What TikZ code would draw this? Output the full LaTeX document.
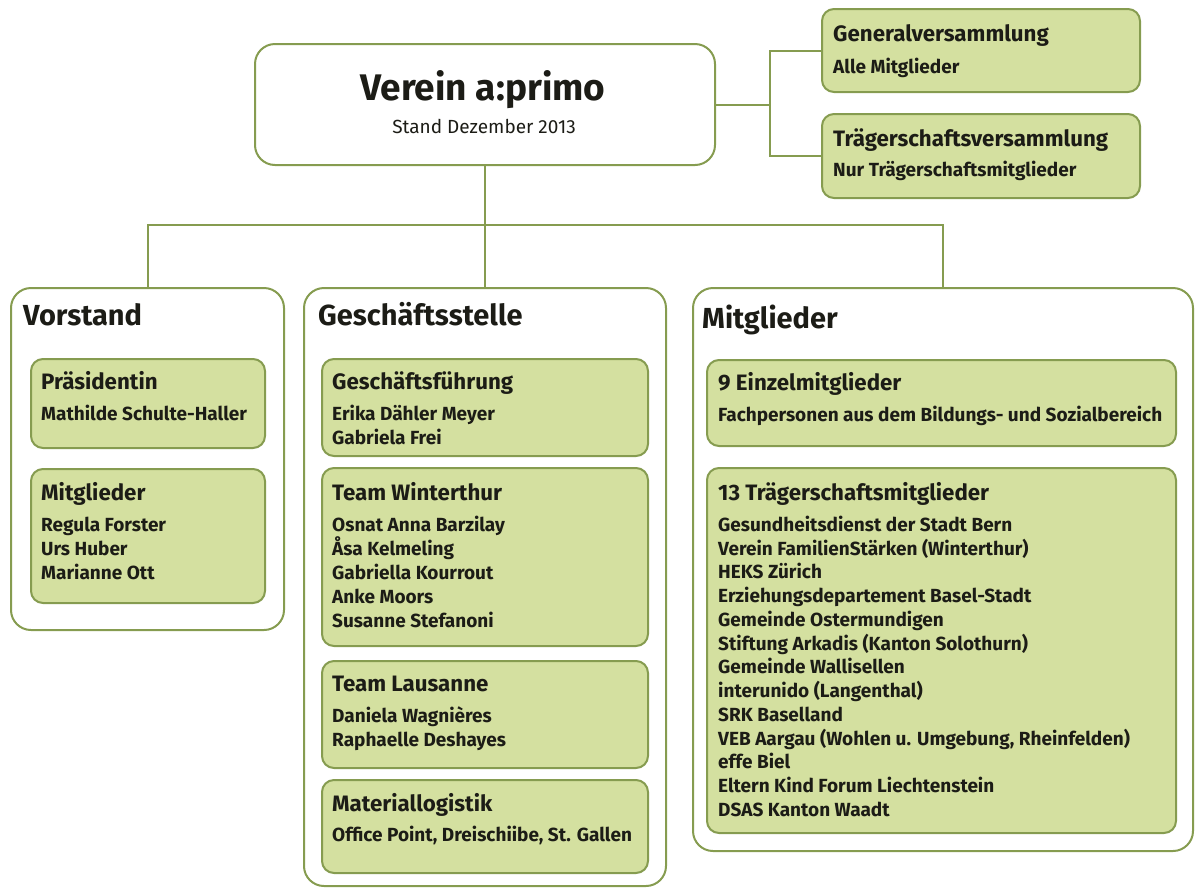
\documentclass[tikz,border=0pt]{standalone}
\usepackage{fontspec}
\setmainfont{Fira Sans}
\usepackage{xcolor}

\begin{document}
\begin{tikzpicture}[x=1pt, y=-1pt,
    link/.style={draw=lineGreen, line width=2pt},
    outerbox/.style={draw=lineGreen, line width=2pt, rounded corners=20pt, fill=white,
      anchor=north west, inner sep=0pt},
    greenbox/.style={draw=lineGreen, line width=2pt, rounded corners=12pt, fill=boxGreen,
      anchor=north west, inner sep=0pt},
    plain/.style={inner sep=0pt, text height=0.7em, text depth=0pt, text=inkBlack},
    headtext/.style={plain, anchor=west, font=\bfseries\fontsize{29}{34}\selectfont},
    boxtitle/.style={plain, anchor=west, font=\bfseries\fontsize{22.3}{26}\selectfont},
    entry/.style={plain, anchor=west, font=\bfseries\fontsize{19}{22}\selectfont}]
  \definecolor{boxGreen}{RGB}{212,224,160}
  \definecolor{lineGreen}{RGB}{134,156,80}
  \definecolor{inkBlack}{RGB}{28,28,22}
  \useasboundingbox (0,0) rectangle (1196,887);

  % Kopf
  \coordinate (bus) at (484,225);
  \node[outerbox, minimum width=460pt, minimum height=121pt] (verein) at (254,43) {};
  \node[plain, font=\bfseries\fontsize{37}{42}\selectfont] (verein-t) at (483,97) {Verein a:primo};
  \node[plain, font=\fontsize{19}{22}\selectfont] (verein-s) at (484,130) {Stand Dezember 2013};
  \path (verein.east) ++(54,0) coordinate (fork);

  \node[greenbox, minimum width=318pt, minimum height=83pt] (gv) at (821,8) {};
  \node[boxtitle] (gv-t) at (833,38) {Generalversammlung};
  \node[entry] (gv-1) at (833,70) {Alle Mitglieder};
  \node[greenbox, minimum width=318pt, minimum height=84pt] (tv) at (821,113) {};
  \node[boxtitle] (tv-t) at (833,143) {Trägerschaftsversammlung};
  \node[entry] (tv-1) at (833,173) {Nur Trägerschaftsmitglieder};

  \draw[link] (verein.east) -- (fork);
  \draw[link] (gv.west) -| (fork) |- (tv.west);

  % Bereiche
  \node[outerbox, minimum width=273pt, minimum height=342pt] (vorstand) at (10,287) {};
  \node[outerbox, minimum width=362pt, minimum height=598pt] (gst) at (303,287) {};
  \node[outerbox, minimum width=500pt, minimum height=563pt] (mitgl) at (692,287) {};
  \draw[link] (verein.south) -- (gst.north);
  \draw[link] (vorstand.north) |- (bus) -| (mitgl.north);

  \node[headtext] (vorstand-t) at (23,322) {Vorstand};
  \node[headtext] (gst-t) at (318,322) {Geschäftsstelle};
  \node[headtext] (mitgl-t) at (702,325) {Mitglieder};

  % Vorstand
  \node[greenbox, minimum width=234pt, minimum height=89pt] (praes) at (30,358) {};
  \node[boxtitle] (praes-t) at (41,386) {Präsidentin};
  \node[entry] (praes-1) at (41,417) {Mathilde Schulte-Haller};
  \node[greenbox, minimum width=234pt, minimum height=134pt] (vmitgl) at (30,468) {};
  \node[boxtitle] (vmitgl-t) at (41,497) {Mitglieder};
  \foreach \txt [count=\i] in {Regula Forster, Urs Huber, Marianne Ott}
    \node[entry] (vmitgl-\i) at (41,504+24*\i) {\txt};

  % Geschaeftsstelle
  \node[greenbox, minimum width=326pt, minimum height=97pt] (gf) at (321,358) {};
  \node[boxtitle] (gf-t) at (332,386) {Geschäftsführung};
  \foreach \txt [count=\i] in {Erika Dähler Meyer, Gabriela Frei}
    \node[entry] (gf-\i) at (332,393+24*\i) {\txt};
  \node[greenbox, minimum width=326pt, minimum height=178pt] (winti) at (321,467) {};
  \node[boxtitle] (winti-t) at (332,497) {Team Winterthur};
  \foreach \txt [count=\i] in {Osnat Anna Barzilay, Åsa Kelmeling, Gabriella Kourrout,
      Anke Moors, Susanne Stefanoni}
    \node[entry] (winti-\i) at (332,504+24*\i) {\txt};
  \node[greenbox, minimum width=326pt, minimum height=107pt] (lausanne) at (321,660) {};
  \node[boxtitle] (lausanne-t) at (332,688) {Team Lausanne};
  \foreach \txt [count=\i] in {Daniela Wagnières, Raphaelle Deshayes}
    \node[entry] (lausanne-\i) at (332,695+24*\i) {\txt};
  \node[greenbox, minimum width=326pt, minimum height=93pt] (matlog) at (321,779) {};
  \node[boxtitle] (matlog-t) at (332,808) {Materiallogistik};
  \node[entry] (matlog-1) at (332,838) {Office Point, Dreischiibe, St. Gallen};

  % Mitglieder
  \node[greenbox, minimum width=469pt, minimum height=86pt] (einzel) at (706,359) {};
  \node[boxtitle] (einzel-t) at (718,387) {9 Einzelmitglieder};
  \node[entry] (einzel-1) at (718,418) {Fachpersonen aus dem Bildungs- und Sozialbereich};
  \node[greenbox, minimum width=469pt, minimum height=365pt] (traeger) at (706,467) {};
  \node[boxtitle] (traeger-t) at (718,497) {13 Trägerschaftsmitglieder};
  \foreach \txt [count=\i] in {Gesundheitsdienst der Stadt Bern,
      Verein FamilienStärken (Winterthur), HEKS Zürich,
      Erziehungsdepartement Basel-Stadt, Gemeinde Ostermundigen,
      Stiftung Arkadis (Kanton Solothurn), Gemeinde Wallisellen,
      interunido (Langenthal), SRK Baselland,
      {VEB Aargau (Wohlen u. Umgebung, Rheinfelden)}, effe Biel,
      Eltern Kind Forum Liechtenstein, DSAS Kanton Waadt}
    \node[entry] (traeger-\i) at (718,504+23.75*\i) {\txt};
\end{tikzpicture}
\end{document}
